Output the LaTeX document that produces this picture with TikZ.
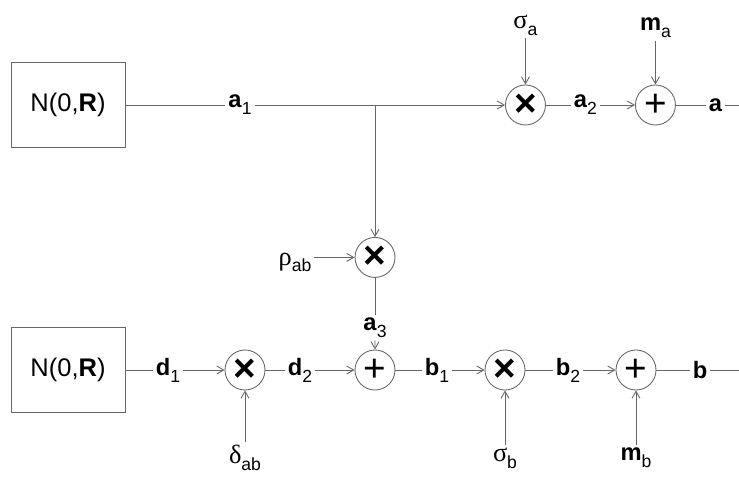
\documentclass[tikz,border=0pt]{standalone}
\usepackage{fontspec}
\setmainfont{Liberation Sans}
\newfontfamily\greekfont{Liberation Serif}
\usetikzlibrary{arrows.meta, positioning}
\newcommand{\lowsub}[1]{\raisebox{-0.55ex}{\fontsize{10}{10}\selectfont #1}}
\newcommand{\vsym}[2]{\textbf{#1}\lowsub{#2}}
\newcommand{\gsym}[2]{{\greekfont\fontsize{15}{15}\selectfont #1}\lowsub{#2}}
\tikzset{
  font=\fontsize{13.5}{14}\selectfont,
  source/.style={draw=black!60, line width=0.5pt, minimum width=2.28cm,
    minimum height=1.7cm, inner sep=2pt, font=\fontsize{14.5}{15}\selectfont},
  mixer/.style={circle, draw=black!60, line width=0.5pt, minimum size=0.8cm,
    inner sep=0pt, font=\fontsize{22}{22}\selectfont},
  sig/.style={inner sep=1.5pt},
  wire/.style={draw=black!60, line width=0.5pt},
  flow/.style={wire, -{Straight Barb[length=1.4mm, width=1.6mm]}},
}

\begin{document}
\begin{tikzpicture}[node distance=1cm, on grid]
  \useasboundingbox (-1.36,-7.46) rectangle (13.42,2.1);

  % upper branch
  \node[source] (srcA) at (0,0) {N(0,\textbf{R})};
  \node[sig, right=3.44cm of srcA] (a1) {\vsym{a}{1}};
  \coordinate[right=6.14cm of srcA] (split);
  \node[mixer, right=2.6cm of split] (mulA) {\textbf{×}};
  \node[sig, above=1.6cm of mulA] (sigA) {\gsym{σ}{a}};
  \node[sig, right=1.2cm of mulA] (a2) {\vsym{a}{2}};
  \node[mixer, right=1.4cm of a2] (addA) {+};
  \node[sig, above=1.54cm of addA] (mA) {\vsym{m}{a}};
  \node[sig, right=1.2cm of addA] (aout) {\textbf{a}};
  \coordinate[right=0.88cm of aout] (endA);

  % coupling
  \node[mixer, below=2.64cm of split] (mulR) {\textbf{×}};
  \node[sig, left=1.6cm of mulR, yshift=-1mm] (rho) {\gsym{ρ}{ab}};
  \node[sig, below=1.4cm of mulR] (a3) {\vsym{a}{3}};

  % lower branch
  \node[source, below=5.3cm of srcA] (srcD) {N(0,\textbf{R})};
  \node[sig, right=2cm of srcD] (d1) {\vsym{d}{1}};
  \node[mixer, right=1.54cm of d1] (mulD) {\textbf{×}};
  \node[sig, below=1.76cm of mulD] (delta) {\gsym{δ}{ab}};
  \node[sig, right=1.1cm of mulD] (d2) {\vsym{d}{2}};
  \node[mixer, right=1.5cm of d2] (addD) {+};
  \node[sig, right=1.24cm of addD] (b1) {\vsym{b}{1}};
  \node[mixer, right=1.36cm of b1] (mulB) {\textbf{×}};
  \node[sig, below=1.76cm of mulB] (sigB) {\gsym{σ}{b}};
  \node[sig, right=1.26cm of mulB] (b2) {\vsym{b}{2}};
  \node[mixer, right=1.36cm of b2] (addB) {+};
  \node[sig, below=1.76cm of addB] (mB) {\vsym{m}{b}};
  \node[sig, right=1.28cm of addB] (bout) {\textbf{b}};
  \coordinate[right=0.78cm of bout] (endB);

  % connections
  \draw[wire] (srcA) -- (a1);
  \draw[flow] (a1) -- (mulA);
  \draw[flow] (sigA) -- (mulA);
  \draw[wire] (mulA) -- (a2);
  \draw[flow] (a2) -- (addA);
  \draw[flow] (mA) -- (addA);
  \draw[wire] (addA) -- (aout);
  \draw[wire] (aout) -- (endA);

  \draw[flow] (split) -- (mulR);
  \draw[flow] (rho.east |- mulR) -- (mulR);
  \draw[wire] (mulR) -- (a3);
  \draw[flow] (a3) -- (addD);

  \draw[wire] (srcD) -- (d1);
  \draw[flow] (d1) -- (mulD);
  \draw[flow] (delta) -- (mulD);
  \draw[wire] (mulD) -- (d2);
  \draw[flow] (d2) -- (addD);
  \draw[wire] (addD) -- (b1);
  \draw[flow] (b1) -- (mulB);
  \draw[flow] (sigB) -- (mulB);
  \draw[wire] (mulB) -- (b2);
  \draw[flow] (b2) -- (addB);
  \draw[flow] (mB) -- (addB);
  \draw[wire] (addB) -- (bout);
  \draw[wire] (bout) -- (endB);
\end{tikzpicture}
\end{document}
